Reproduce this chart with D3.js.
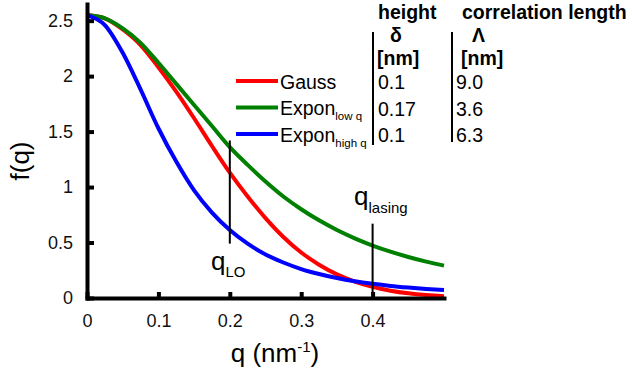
<!DOCTYPE html>
<html>
<head>
<meta charset="utf-8">
<script src="https://cdn.jsdelivr.net/npm/d3@7"></script>
<style>
  body { margin: 0; background: #fff; }
  svg { font-family: "Liberation Sans", Arial, Helvetica, sans-serif; }
</style>
</head>
<body>
<svg width="632" height="373"></svg>
<script>
// q values (nm^-1) and the three curves
var qValues = [0, 0.025, 0.05, 0.075, 0.1, 0.125, 0.15, 0.175, 0.2, 0.225, 0.25,
  0.275, 0.3, 0.325, 0.35, 0.375, 0.4, 0.425, 0.45, 0.475, 0.5];
var gauss = [2.55, 2.52, 2.42, 2.28, 2.08, 1.86, 1.62, 1.37, 1.13, 0.915, 0.72,
  0.55, 0.41, 0.30, 0.213, 0.148, 0.10, 0.066, 0.042, 0.026, 0.016];
var exponLow = [2.55, 2.52, 2.43, 2.30, 2.12, 1.93, 1.74, 1.55, 1.36, 1.20, 1.05,
  0.915, 0.80, 0.70, 0.613, 0.538, 0.473, 0.418, 0.37, 0.328, 0.292];
var exponHigh = [2.55, 2.46, 2.21, 1.88, 1.53, 1.23, 0.97, 0.77, 0.613, 0.49, 0.393,
  0.32, 0.261, 0.216, 0.18, 0.151, 0.128, 0.109, 0.094, 0.081, 0.071];

var seriesNames = ["Gauss", "Expon", "Expon"];
var seriesSubs = ["", "low q", "high q"];
var seriesColors = ["#ff0000", "#008000", "#0000ff"];
var heightValues = ["0.1", "0.17", "0.1"];
var corrValues = ["9.0", "3.6", "6.3"];

var xTicks = [0, 0.1, 0.2, 0.3, 0.4];
var yTicks = [0, 0.5, 1, 1.5, 2, 2.5];
var markers = [
  { q: 0.2, top: 1.42, bottom: 0.49, label: "q", sub: "LO" },
  { q: 0.4, top: 0.67, bottom: 0, label: "q", sub: "lasing" }
];

var svg = d3.select("svg");
var x = d3.scaleLinear([0, 0.5], [87, 444]);
var y = d3.scaleLinear([0, 2.65], [298, 4]);

// curves
var line = d3.line()
  .x(function (d) { return x(d[0]); })
  .y(function (d) { return y(d[1]); })
  .curve(d3.curveMonotoneX);

[gauss, exponLow, exponHigh].forEach(function (vals, i) {
  svg.append("path")
    .datum(qValues.map(function (q, j) { return [q, vals[j]]; }))
    .attr("d", line)
    .attr("fill", "none")
    .attr("stroke", seriesColors[i])
    .attr("stroke-width", 4);
});

// axes
var xAxis = svg.append("g")
  .attr("transform", "translate(0,298)")
  .call(d3.axisBottom(x).tickValues(xTicks).tickFormat(d3.format("")).tickSizeInner(-6).tickSizeOuter(0).tickPadding(16));
var yAxis = svg.append("g")
  .attr("transform", "translate(87,0)")
  .call(d3.axisLeft(y).tickValues(yTicks).tickFormat(d3.format("")).tickSizeInner(-7).tickSizeOuter(0).tickPadding(14));

[xAxis, yAxis].forEach(function (ax) {
  ax.select(".domain").attr("stroke", "#000").attr("stroke-width", 4).attr("stroke-linecap", "square");
  ax.selectAll(".tick line").attr("stroke", "#000").attr("stroke-width", 4);
  ax.selectAll(".tick text").attr("font-size", 18).attr("fill", "#111")
    .attr("font-family", "Liberation Sans, Arial, sans-serif");
});

// axis titles
var xTitle = svg.append("text")
  .attr("x", 275).attr("y", 362)
  .attr("text-anchor", "middle")
  .attr("font-size", 26);
xTitle.append("tspan").text("q (nm");
xTitle.append("tspan").attr("font-size", 15).attr("dy", -10).text("-1");
xTitle.append("tspan").attr("dy", 10).text(")");

svg.append("text")
  .attr("transform", "translate(29,161) rotate(-90)")
  .attr("text-anchor", "middle")
  .attr("font-size", 26)
  .text("f(q)");

// marker lines
markers.forEach(function (m) {
  svg.append("line")
    .attr("x1", x(m.q)).attr("x2", x(m.q))
    .attr("y1", y(m.top)).attr("y2", y(m.bottom))
    .attr("stroke", "#000").attr("stroke-width", 2);
});
var qlo = svg.append("text").attr("x", 211).attr("y", 270).attr("font-size", 26);
qlo.append("tspan").text("q");
qlo.append("tspan").attr("font-size", 15).attr("dy", 7).text("LO");
var qlas = svg.append("text").attr("x", 354).attr("y", 205).attr("font-size", 26);
qlas.append("tspan").text("q");
qlas.append("tspan").attr("font-size", 15).attr("dy", 8).text("lasing");

// legend and table values
var rowY = [81, 107.5, 134];
seriesNames.forEach(function (name, i) {
  svg.append("line")
    .attr("x1", 236).attr("x2", 278)
    .attr("y1", rowY[i]).attr("y2", rowY[i])
    .attr("stroke", seriesColors[i]).attr("stroke-width", 4);
  var t = svg.append("text").attr("x", 280).attr("y", rowY[i] + 7.5).attr("font-size", 19.5);
  t.append("tspan").text(name);
  if (seriesSubs[i]) t.append("tspan").attr("font-size", 11.5).attr("dy", 5).text(seriesSubs[i]);

  svg.append("text").attr("x", 378).attr("y", rowY[i] + 8).attr("font-size", 19.5).text(heightValues[i]);
  svg.append("text").attr("x", 456).attr("y", rowY[i] + 8).attr("font-size", 19.5).text(corrValues[i]);
});

// table header
var hdr = [
  { x: 378, y: 19, t: "height" },
  { x: 462, y: 19, t: "correlation length" },
  { x: 390, y: 42, t: "δ" },
  { x: 472, y: 42, t: "Λ" },
  { x: 377, y: 65, t: "[nm]" },
  { x: 461, y: 65, t: "[nm]" }
];
hdr.forEach(function (h) {
  svg.append("text").attr("x", h.x).attr("y", h.y)
    .attr("font-size", 19.5).attr("font-weight", "bold").text(h.t);
});
svg.append("line").attr("x1", 373).attr("x2", 373).attr("y1", 32).attr("y2", 145)
  .attr("stroke", "#000").attr("stroke-width", 2);
svg.append("line").attr("x1", 452).attr("x2", 452).attr("y1", 32).attr("y2", 142)
  .attr("stroke", "#000").attr("stroke-width", 2);
</script>
</body>
</html>
